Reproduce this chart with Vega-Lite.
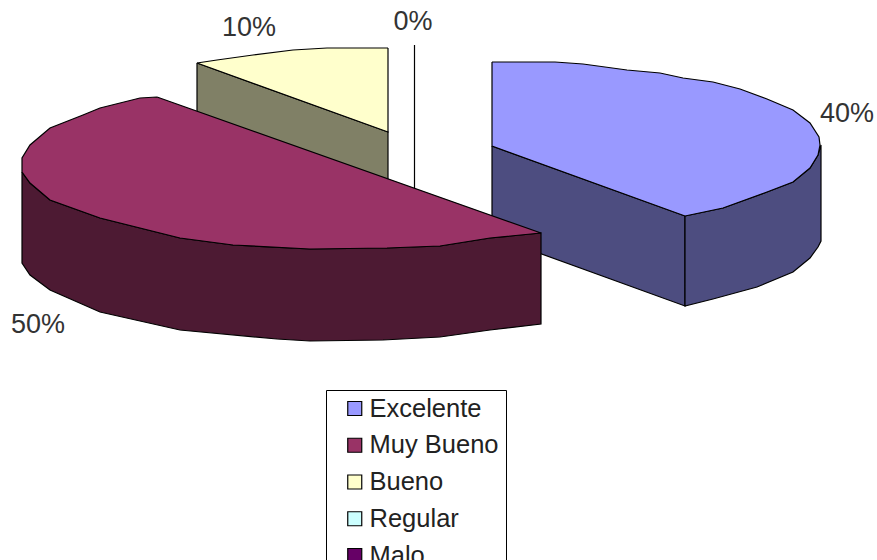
{"$schema":"https://vega.github.io/schema/vega-lite/v6.json","width":877,"height":560,"padding":0,"autosize":{"type":"none"},"background":"white","config":{"view":{"stroke":null},"font":"Liberation Sans"},
"datasets":{"contornos":[
{"serie":"Excelente lado","pieza":"e1","n":1,"x":492,"y":146},{"serie":"Excelente lado","pieza":"e1","n":2,"x":685,"y":216},{"serie":"Excelente lado","pieza":"e1","n":3,"x":685,"y":306},{"serie":"Excelente lado","pieza":"e1","n":4,"x":492,"y":236},{"serie":"Excelente lado","pieza":"e1","n":5,"x":492,"y":146},
{"serie":"Excelente lado","pieza":"e2","n":1,"x":685,"y":216},{"serie":"Excelente lado","pieza":"e2","n":2,"x":723,"y":208},{"serie":"Excelente lado","pieza":"e2","n":3,"x":767,"y":192},{"serie":"Excelente lado","pieza":"e2","n":4,"x":793,"y":182},{"serie":"Excelente lado","pieza":"e2","n":5,"x":810,"y":168},{"serie":"Excelente lado","pieza":"e2","n":6,"x":818,"y":155},{"serie":"Excelente lado","pieza":"e2","n":7,"x":821,"y":145},{"serie":"Excelente lado","pieza":"e2","n":8,"x":821,"y":241},{"serie":"Excelente lado","pieza":"e2","n":9,"x":818,"y":247},{"serie":"Excelente lado","pieza":"e2","n":10,"x":810,"y":258},{"serie":"Excelente lado","pieza":"e2","n":11,"x":793,"y":272},{"serie":"Excelente lado","pieza":"e2","n":12,"x":757,"y":287},{"serie":"Excelente lado","pieza":"e2","n":13,"x":713,"y":299},{"serie":"Excelente lado","pieza":"e2","n":14,"x":685,"y":306},{"serie":"Excelente lado","pieza":"e2","n":15,"x":685,"y":216},
{"serie":"Excelente","pieza":"e3","n":1,"x":492,"y":62},{"serie":"Excelente","pieza":"e3","n":2,"x":555,"y":62},{"serie":"Excelente","pieza":"e3","n":3,"x":583,"y":64},{"serie":"Excelente","pieza":"e3","n":4,"x":627,"y":70},{"serie":"Excelente","pieza":"e3","n":5,"x":660,"y":73},{"serie":"Excelente","pieza":"e3","n":6,"x":683,"y":78},{"serie":"Excelente","pieza":"e3","n":7,"x":713,"y":82},{"serie":"Excelente","pieza":"e3","n":8,"x":740,"y":89},{"serie":"Excelente","pieza":"e3","n":9,"x":767,"y":99},{"serie":"Excelente","pieza":"e3","n":10,"x":793,"y":110},{"serie":"Excelente","pieza":"e3","n":11,"x":810,"y":123},{"serie":"Excelente","pieza":"e3","n":12,"x":819,"y":137},{"serie":"Excelente","pieza":"e3","n":13,"x":820,"y":145},{"serie":"Excelente","pieza":"e3","n":14,"x":818,"y":155},{"serie":"Excelente","pieza":"e3","n":15,"x":810,"y":168},{"serie":"Excelente","pieza":"e3","n":16,"x":793,"y":182},{"serie":"Excelente","pieza":"e3","n":17,"x":767,"y":192},{"serie":"Excelente","pieza":"e3","n":18,"x":723,"y":208},{"serie":"Excelente","pieza":"e3","n":19,"x":685,"y":216},{"serie":"Excelente","pieza":"e3","n":20,"x":492,"y":146},{"serie":"Excelente","pieza":"e3","n":21,"x":492,"y":62},
{"serie":"Bueno lado","pieza":"b1","n":1,"x":197,"y":63},{"serie":"Bueno lado","pieza":"b1","n":2,"x":388,"y":132},{"serie":"Bueno lado","pieza":"b1","n":3,"x":388,"y":222},{"serie":"Bueno lado","pieza":"b1","n":4,"x":197,"y":153},{"serie":"Bueno lado","pieza":"b1","n":5,"x":197,"y":63},
{"serie":"Bueno","pieza":"b2","n":1,"x":388,"y":48},{"serie":"Bueno","pieza":"b2","n":2,"x":327,"y":48},{"serie":"Bueno","pieza":"b2","n":3,"x":293,"y":50},{"serie":"Bueno","pieza":"b2","n":4,"x":253,"y":55},{"serie":"Bueno","pieza":"b2","n":5,"x":217,"y":60},{"serie":"Bueno","pieza":"b2","n":6,"x":197,"y":63},{"serie":"Bueno","pieza":"b2","n":7,"x":388,"y":132},{"serie":"Bueno","pieza":"b2","n":8,"x":388,"y":48},
{"serie":"Regular","pieza":"r1","n":1,"x":414.5,"y":45},{"serie":"Regular","pieza":"r1","n":2,"x":414.5,"y":195},
{"serie":"Muy Bueno lado","pieza":"m1","n":1,"x":22,"y":172},{"serie":"Muy Bueno lado","pieza":"m1","n":2,"x":30,"y":183},{"serie":"Muy Bueno lado","pieza":"m1","n":3,"x":50,"y":200},{"serie":"Muy Bueno lado","pieza":"m1","n":4,"x":100,"y":218},{"serie":"Muy Bueno lado","pieza":"m1","n":5,"x":180,"y":238},{"serie":"Muy Bueno lado","pieza":"m1","n":6,"x":233,"y":245},{"serie":"Muy Bueno lado","pieza":"m1","n":7,"x":310,"y":249},{"serie":"Muy Bueno lado","pieza":"m1","n":8,"x":387,"y":248},{"serie":"Muy Bueno lado","pieza":"m1","n":9,"x":440,"y":246},{"serie":"Muy Bueno lado","pieza":"m1","n":10,"x":490,"y":238},{"serie":"Muy Bueno lado","pieza":"m1","n":11,"x":541,"y":233},{"serie":"Muy Bueno lado","pieza":"m1","n":12,"x":541,"y":324},{"serie":"Muy Bueno lado","pieza":"m1","n":13,"x":490,"y":330},{"serie":"Muy Bueno lado","pieza":"m1","n":14,"x":440,"y":337},{"serie":"Muy Bueno lado","pieza":"m1","n":15,"x":383,"y":340},{"serie":"Muy Bueno lado","pieza":"m1","n":16,"x":310,"y":341},{"serie":"Muy Bueno lado","pieza":"m1","n":17,"x":277,"y":339},{"serie":"Muy Bueno lado","pieza":"m1","n":18,"x":180,"y":330},{"serie":"Muy Bueno lado","pieza":"m1","n":19,"x":100,"y":312},{"serie":"Muy Bueno lado","pieza":"m1","n":20,"x":50,"y":290},{"serie":"Muy Bueno lado","pieza":"m1","n":21,"x":30,"y":275},{"serie":"Muy Bueno lado","pieza":"m1","n":22,"x":22,"y":263},{"serie":"Muy Bueno lado","pieza":"m1","n":23,"x":22,"y":172},
{"serie":"Muy Bueno","pieza":"m2","n":1,"x":157,"y":97},{"serie":"Muy Bueno","pieza":"m2","n":2,"x":140,"y":98},{"serie":"Muy Bueno","pieza":"m2","n":3,"x":100,"y":108},{"serie":"Muy Bueno","pieza":"m2","n":4,"x":83,"y":115},{"serie":"Muy Bueno","pieza":"m2","n":5,"x":50,"y":128},{"serie":"Muy Bueno","pieza":"m2","n":6,"x":30,"y":145},{"serie":"Muy Bueno","pieza":"m2","n":7,"x":22,"y":158},{"serie":"Muy Bueno","pieza":"m2","n":8,"x":22,"y":172},{"serie":"Muy Bueno","pieza":"m2","n":9,"x":30,"y":183},{"serie":"Muy Bueno","pieza":"m2","n":10,"x":50,"y":200},{"serie":"Muy Bueno","pieza":"m2","n":11,"x":100,"y":218},{"serie":"Muy Bueno","pieza":"m2","n":12,"x":180,"y":238},{"serie":"Muy Bueno","pieza":"m2","n":13,"x":233,"y":245},{"serie":"Muy Bueno","pieza":"m2","n":14,"x":310,"y":249},{"serie":"Muy Bueno","pieza":"m2","n":15,"x":387,"y":248},{"serie":"Muy Bueno","pieza":"m2","n":16,"x":440,"y":246},{"serie":"Muy Bueno","pieza":"m2","n":17,"x":490,"y":238},{"serie":"Muy Bueno","pieza":"m2","n":18,"x":541,"y":233},{"serie":"Muy Bueno","pieza":"m2","n":19,"x":157,"y":97}
],
"porcentajes":[{"categoria":"Excelente","valor":0.4,"x":847,"y":114},{"categoria":"Muy Bueno","valor":0.5,"x":38,"y":325},{"categoria":"Bueno","valor":0.1,"x":249,"y":28},{"categoria":"Regular","valor":0,"x":413,"y":22}]},
"layer":[
{"data":{"name":"contornos"},"mark":{"type":"line","stroke":"black","strokeWidth":1.2,"interpolate":"linear","clip":false},
"encoding":{"x":{"field":"x","type":"quantitative","scale":{"domain":[0,877],"nice":false},"axis":null},"y":{"field":"y","type":"quantitative","scale":{"domain":[0,560],"nice":false,"reverse":true},"axis":null},"order":{"field":"n","type":"quantitative"},"detail":{"field":"pieza","type":"nominal"},
"fill":{"field":"serie","type":"nominal","scale":{"domain":["Excelente","Muy Bueno","Bueno","Regular","Malo","Excelente lado","Muy Bueno lado","Bueno lado"],"range":["#9999ff","#993366","#ffffcc","#ccffff","#660066","#4d4d80","#4d1a33","#808066"]},
"legend":{"title":null,"values":["Excelente","Muy Bueno","Bueno","Regular","Malo"],"orient":"none","legendX":326,"legendY":390,"direction":"vertical","fillColor":"white","strokeColor":"black","padding":7,"symbolType":"square","symbolSize":196,"symbolStrokeColor":"black","symbolStrokeWidth":1.2,"symbolOffset":9,"labelFont":"Liberation Sans","labelFontSize":25.5,"labelColor":"#222222","labelLimit":200,"labelOffset":2,"rowPadding":10.75,"clipHeight":23}}}},
{"data":{"name":"porcentajes"},"mark":{"type":"text","font":"Liberation Sans","fontSize":27,"color":"#333333","align":"center","baseline":"middle"},
"encoding":{"x":{"field":"x","type":"quantitative"},"y":{"field":"y","type":"quantitative"},"text":{"field":"valor","type":"quantitative","format":".0%"}}}
]}
